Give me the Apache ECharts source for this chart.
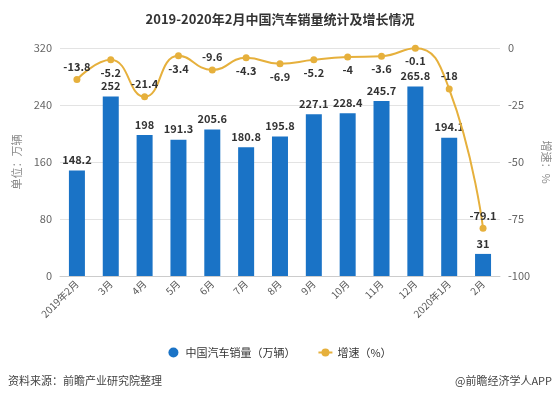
<!DOCTYPE html>
<html>
<head>
<meta charset="utf-8">
<script src="https://cdn.jsdelivr.net/npm/echarts@6/dist/echarts.min.js"></script>
<style>
  html, body { margin: 0; padding: 0; background: #fff; }
  #main { width: 560px; height: 396px; }
</style>
</head>
<body>
<div id="main"></div>
<script>
// 数据
var months = ['2019年2月', '3月', '4月', '5月', '6月', '7月', '8月', '9月', '10月', '11月', '12月', '2020年1月', '2月'];
var sales = [148.2, 252, 198, 191.3, 205.6, 180.8, 195.8, 227.1, 228.4, 245.7, 265.8, 194.1, 31];
var growth = [-13.8, -5.2, -21.4, -3.4, -9.6, -4.3, -6.9, -5.2, -4, -3.6, -0.1, -18, -79.1];
// 增速标签在点上方的月份（其余在下方）
var labelAbove = [0, 2, 4, 11, 12];

var font = '"Microsoft YaHei", "Noto Sans CJK SC", sans-serif';
var chart = echarts.init(document.getElementById('main'));

chart.setOption({
  textStyle: { fontFamily: font },
  title: {
    text: '2019-2020年2月中国汽车销量统计及增长情况',
    left: 'center',
    top: 8,
    textStyle: { fontSize: 13, fontWeight: 'bold', color: '#333', fontFamily: font }
  },
  legend: {
    bottom: 33,
    left: 'center',
    itemWidth: 14,
    itemHeight: 10,
    itemGap: 22,
    textStyle: { fontSize: 11, color: '#333' },
    data: [
      { name: '中国汽车销量（万辆）', icon: 'circle' },
      { name: '增速（%）' }
    ]
  },
  grid: { left: 60, right: 59, top: 48, bottom: 120 },
  xAxis: {
    type: 'category',
    data: months,
    axisLine: { lineStyle: { color: '#ccc' } },
    axisTick: { alignWithLabel: true, lineStyle: { color: '#ccc' } },
    axisLabel: { rotate: 45, fontSize: 10, color: '#555', interval: 0, margin: 6 }
  },
  yAxis: [
    {
      type: 'value',
      min: 0, max: 320, interval: 80,
      name: '单位：万辆',
      nameLocation: 'middle',
      nameGap: 38,
      nameTextStyle: { color: '#888', fontSize: 11 },
      axisLine: { show: false },
      axisTick: { show: false },
      axisLabel: { color: '#666', fontSize: 11 },
      splitLine: { lineStyle: { color: '#e3e3e3' } }
    },
    {
      type: 'value',
      min: -100, max: 0, interval: 25,
      name: '增速：%',
      nameLocation: 'middle',
      nameGap: 36,
      nameRotate: -90,
      nameTextStyle: { color: '#888', fontSize: 11 },
      axisLine: { show: false },
      axisTick: { show: false },
      axisLabel: { color: '#666', fontSize: 11 },
      splitLine: { show: false }
    }
  ],
  series: [
    {
      name: '中国汽车销量（万辆）',
      type: 'bar',
      data: sales,
      barWidth: 16,
      itemStyle: { color: '#1a73c6' },
      label: { show: true, position: 'top', color: '#333', fontWeight: 'bold', fontSize: 11 }
    },
    {
      name: '增速（%）',
      type: 'line',
      yAxisIndex: 1,
      data: growth.map(function (v, i) {
        return { value: v, label: { position: labelAbove.indexOf(i) >= 0 ? 'top' : 'bottom' } };
      }),
      smooth: true,
      symbol: 'circle',
      symbolSize: 7,
      itemStyle: { color: '#e6b03c' },
      lineStyle: { color: '#e6b03c', width: 2 },
      label: { show: true, color: '#333', fontWeight: 'bold', fontSize: 11, distance: 4 }
    }
  ],
  graphic: [
    {
      type: 'text', left: 8, bottom: 10,
      style: { text: '资料来源：前瞻产业研究院整理', fill: '#444', fontSize: 11, fontFamily: font }
    },
    {
      type: 'text', right: 8, bottom: 10,
      style: { text: '@前瞻经济学人APP', fill: '#444', fontSize: 11, fontFamily: font }
    }
  ]
});
</script>
</body>
</html>
